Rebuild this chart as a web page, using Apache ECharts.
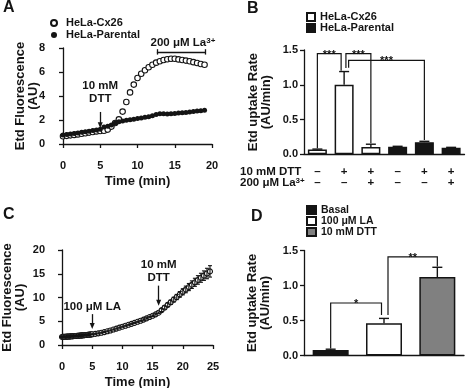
<!DOCTYPE html>
<html>
<head>
<meta charset="utf-8">
<script src="https://cdn.jsdelivr.net/npm/echarts@6/dist/echarts.min.js"></script>
<style>
html, body { margin: 0; padding: 0; background: #fff; }
#chart { width: 468px; height: 388px; }
</style>
</head>
<body>
<div id="chart"></div>
<script>
// ---- panel A: EtBr uptake, HeLa-Cx26 vs parental
var timeA = [0, 0.5, 1, 1.5, 2, 2.5, 3, 3.5, 4, 4.5, 5, 5.5, 6, 6.5, 7, 7.5, 8, 8.5, 9, 9.5,
  10, 10.5, 11, 11.5, 12, 12.5, 13, 13.5, 14, 14.5, 15, 15.5, 16, 16.5, 17, 17.5, 18, 18.5, 19];
var cx26A = [0.65, 0.68, 0.72, 0.76, 0.80, 0.85, 0.90, 0.95, 1.00, 1.05, 1.08, 1.10, 1.20, 1.45, 1.75, 2.05,
  2.70, 3.50, 4.30, 4.95, 5.50, 5.85, 6.15, 6.40, 6.60, 6.78, 6.90, 7.00, 7.06, 7.10, 7.10, 7.05,
  7.00, 6.95, 6.90, 6.82, 6.75, 6.67, 6.60];
var parentalA = [0.75, 0.80, 0.84, 0.88, 0.92, 0.97, 1.02, 1.07, 1.12, 1.17, 1.22, 1.42, 1.48, 1.58, 1.75, 1.85,
  1.92, 1.97, 2.02, 2.07, 2.12, 2.17, 2.22, 2.28, 2.35, 2.45, 2.52, 2.53, 2.50, 2.52, 2.55, 2.58,
  2.60, 2.63, 2.66, 2.70, 2.74, 2.78, 2.82];

// ---- panel B: uptake rates
var dttRow = ['–', '+', '+', '–', '+', '+'];
var laRow = ['–', '–', '+', '–', '–', '+'];
var cx26B = [0.07, 1.00, 0.105, null, null, null];
var parentalB = [null, null, null, 0.11, 0.175, 0.095];
var errB = [0.005, 0.19, 0.04, 0.005, 0.012, 0.005];
// [left bar, right bar, top, left leg bottom, right leg bottom]
var bracketsB = [[0, 1, 1.447, 0.087, 1.20], [1, 2, 1.447, 1.24, 0.16], [1, 4, 1.35, 1.245, 0.205]];
var starsB = ['***', '***', '***'];

// ---- panel C: LA then DTT
var timeC = [0, 0.125, 0.25, 0.375, 0.5, 0.625, 0.75, 0.875, 1, 1.125, 1.25, 1.375, 1.5, 1.625, 1.75, 1.875,
  2, 2.125, 2.25, 2.375, 2.5, 2.625, 2.75, 2.875, 3, 3.125, 3.25, 3.375, 3.5, 3.625, 3.75, 3.875,
  4, 4.125, 4.25, 4.375, 4.5, 4.625, 4.75, 4.875, 5,
  5.5, 6, 6.5, 7, 7.5, 8, 8.5, 9, 9.5, 10, 10.5, 11, 11.5, 12, 12.5, 13, 13.5, 14, 14.5, 15, 15.5, 16,
  16.5, 17, 17.5, 18, 18.5, 19, 19.5, 20, 20.5, 21, 21.5, 22, 22.5, 23, 23.5, 24, 24.5];
var valueC = [1.70, 1.71, 1.72, 1.73, 1.74, 1.75, 1.76, 1.77, 1.78, 1.79, 1.80, 1.82, 1.83, 1.84, 1.85, 1.86,
  1.88, 1.89, 1.90, 1.91, 1.93, 1.94, 1.96, 1.97, 1.99, 2.00, 2.02, 2.03, 2.05, 2.06, 2.08, 2.09,
  2.11, 2.12, 2.14, 2.16, 2.18, 2.20, 2.22, 2.24, 2.26,
  2.35, 2.45, 2.58, 2.72, 2.88, 3.05, 3.25, 3.45, 3.65, 3.85, 4.05, 4.25, 4.45, 4.65, 4.88, 5.10, 5.35, 5.60, 5.88, 6.15, 6.45, 6.80,
  7.35, 7.90, 8.45, 9.00, 9.55, 10.10, 10.65, 11.20, 11.70, 12.20, 12.70, 13.20, 13.70, 14.15, 14.60, 15.05, 15.50];
var errC = [0.05, 0.05, 0.05, 0.05, 0.05, 0.05, 0.05, 0.05, 0.05, 0.05, 0.05, 0.05, 0.05, 0.05, 0.05, 0.05,
  0.05, 0.05, 0.05, 0.05, 0.05, 0.05, 0.05, 0.05, 0.05, 0.05, 0.05, 0.05, 0.05, 0.05, 0.05, 0.05,
  0.05, 0.05, 0.05, 0.05, 0.05, 0.05, 0.05, 0.05, 0.05,
  0.1, 0.1, 0.1, 0.1, 0.1, 0.1, 0.1, 0.1, 0.1, 0.1, 0.1, 0.1, 0.1, 0.1, 0.1, 0.1, 0.15, 0.15, 0.15, 0.15, 0.15, 0.15,
  0.3, 0.35, 0.4, 0.45, 0.5, 0.55, 0.6, 0.65, 0.7, 0.75, 0.8, 0.85, 0.9, 0.95, 1.0, 1.1, 1.2];

// ---- panel D
var groupsD = ['Basal', '100 μM LA', '10 mM DTT'];
var basalD = [0.08, null, null];
var laD = [null, 0.46, null];
var dttD = [null, null, 1.12];
var errD = [0.01, 0.07, 0.14];
var bracketsD = [[0, 1, 0.75, 0.10, 0.58], [1, 2, 1.41, 0.58, 1.27]];
var starsD = ['*', '**'];

var ink = '#141414';
var font = '"Liberation Sans", Arial, sans-serif';

function pairs(xs, ys) {
  return xs.map(function (x, i) { return [x, ys[i]]; });
}

function errorBar(capHalf, both) {
  return function (params, api) {
    var x = api.value(0), m = api.value(1), e = api.value(2);
    var lo = api.coord([x, both ? m - e : m]);
    var hi = api.coord([x, m + e]);
    var st = { stroke: ink, lineWidth: both ? 1.1 : 1.4 };
    var kids = [
      { type: 'line', shape: { x1: hi[0], y1: lo[1], x2: hi[0], y2: hi[1] }, style: st },
      { type: 'line', shape: { x1: hi[0] - capHalf, y1: hi[1], x2: hi[0] + capHalf, y2: hi[1] }, style: st }
    ];
    if (both) {
      kids.push({ type: 'line', shape: { x1: hi[0] - capHalf, y1: lo[1], x2: hi[0] + capHalf, y2: lo[1] }, style: st });
    }
    return { type: 'group', children: kids };
  };
}

// leg shifts in px so the legs don't sit on the error bars
var shiftB = [[0, -3], [1.8, 0], [4.5, 0]];
var shiftD = [[0, -2.5], [4, 0]];

function bracket(shifts, stars) {
  return function (params, api) {
    var i = params.dataIndex;
    var l = api.coord([api.value(0), api.value(2)]);
    var r = api.coord([api.value(1), api.value(2)]);
    var lb = api.coord([api.value(0), api.value(3)]);
    var rb = api.coord([api.value(1), api.value(4)]);
    var xl = l[0] + shifts[i][0], xr = r[0] + shifts[i][1];
    return {
      type: 'group', children: [
        { type: 'polyline', shape: { points: [[xl, lb[1]], [xl, l[1]], [xr, l[1]], [xr, rb[1]]] },
          style: { stroke: ink, lineWidth: 1.2, fill: 'none' } },
        { type: 'text', style: { text: stars[i], x: (xl + xr) / 2, y: l[1] + 1, align: 'center', verticalAlign: 'middle',
          fill: ink, font: 'bold 11px ' + font } }
      ]
    };
  };
}

function meanOf(a, b) {
  return a.map(function (v, i) { return v != null ? v : b[i]; });
}

var meansB = meanOf(cx26B, parentalB);
var meansD = meanOf(meanOf(basalD, laD), dttD);

var tickLbl = { color: ink, fontSize: 11, fontWeight: 'bold', fontFamily: font };
var nameTxt = { color: ink, fontSize: 13, fontWeight: 'bold', fontFamily: font, lineHeight: 13 };
var axLine = { show: true, lineStyle: { color: ink, width: 1.3 } };
var axTick = { show: true, length: 4, lineStyle: { color: ink, width: 1.3 } };
var noSplit = { show: false };
var annLabel = { show: true, position: 'inside', color: ink, fontWeight: 'bold', fontSize: 11.5, fontFamily: font,
  lineHeight: 13, formatter: function (p) { return p.name; },
  rich: { s: { fontSize: 8, fontWeight: 'bold', fontFamily: font, color: ink, verticalAlign: 'top', lineHeight: 13 } } };
var markPt = { silent: true, symbol: 'rect', symbolSize: 1, itemStyle: { color: 'rgba(0,0,0,0)' }, label: annLabel };
var arrowLine = { silent: true, symbol: ['none', 'triangle'], symbolSize: [5, 6], label: { show: false },
  lineStyle: { color: ink, width: 1.3, type: 'solid' }, emphasis: { disabled: true } };

function stripName(n) { var k = n.indexOf('|'); return k >= 0 ? n.slice(k + 1) : n; }

var option = {
  animation: false,
  backgroundColor: '#fff',
  textStyle: { fontFamily: font },
  grid: [
    { left: 63, right: 256, top: 48, bottom: 244, outerBoundsMode: 'none' },
    { left: 304, right: 3.5, top: 50, bottom: 233.7, outerBoundsMode: 'none' },
    { left: 62, right: 255, top: 250, bottom: 43, outerBoundsMode: 'none' },
    { left: 304, right: 4, top: 250.5, bottom: 32.5, outerBoundsMode: 'none' }
  ],
  xAxis: [
    { type: 'value', gridIndex: 0, min: 0, max: 20, interval: 5, offset: 10, axisLine: axLine, axisTick: axTick,
      axisLabel: Object.assign({ margin: 6 }, tickLbl), splitLine: noSplit,
      name: 'Time (min)', nameLocation: 'middle', nameGap: 21, nameMoveOverlap: false, nameTextStyle: nameTxt },
    { type: 'category', gridIndex: 1, data: dttRow.map(function (d, i) { return d + '\n' + laRow[i]; }),
      axisLine: axLine, axisTick: { show: false },
      axisLabel: { color: ink, fontSize: 11.5, fontWeight: 'bold', fontFamily: font, lineHeight: 11.3, margin: 12, interval: 0 } },
    { type: 'value', gridIndex: 2, min: 0, max: 25, interval: 5, offset: 10, axisLine: axLine, axisTick: axTick,
      axisLabel: Object.assign({ margin: 6 }, tickLbl), splitLine: noSplit,
      name: 'Time (min)', nameLocation: 'middle', nameGap: 21, nameMoveOverlap: false, nameTextStyle: nameTxt },
    { type: 'category', gridIndex: 3, data: groupsD, axisLine: axLine, axisTick: { show: false }, axisLabel: { show: false } }
  ],
  yAxis: [
    { type: 'value', gridIndex: 0, min: 0, max: 8, interval: 2, offset: 11, axisLine: axLine, axisTick: axTick,
      axisLabel: Object.assign({ margin: 7 }, tickLbl), splitLine: noSplit,
      name: 'Etd Fluorescence\n(AU)', nameLocation: 'middle', nameRotate: 90, nameGap: 12, nameMoveOverlap: false,
      nameTextStyle: nameTxt },
    { type: 'value', gridIndex: 1, min: 0, max: 1.5, interval: 0.5, axisLine: axLine, axisTick: axTick,
      axisLabel: Object.assign({ margin: 6, formatter: function (v) { return v.toFixed(1); } }, tickLbl), splitLine: noSplit,
      name: 'Etd uptake Rate\n(AU/min)', nameLocation: 'middle', nameRotate: 90, nameGap: 31, nameMoveOverlap: false,
      nameTextStyle: nameTxt },
    { type: 'value', gridIndex: 2, min: 0, max: 20, interval: 5, offset: 10, axisLine: axLine, axisTick: axTick,
      axisLabel: Object.assign({ margin: 7 }, tickLbl), splitLine: noSplit,
      name: 'Etd Fluorescence\n(AU)', nameLocation: 'middle', nameRotate: 90, nameGap: 25, nameMoveOverlap: false,
      nameTextStyle: nameTxt },
    { type: 'value', gridIndex: 3, min: 0, max: 1.5, interval: 0.5, axisLine: axLine, axisTick: axTick,
      axisLabel: Object.assign({ margin: 6, formatter: function (v) { return v.toFixed(1); } }, tickLbl), splitLine: noSplit,
      name: 'Etd uptake Rate\n(AU/min)', nameLocation: 'middle', nameRotate: 90, nameGap: 32, nameMoveOverlap: false,
      nameTextStyle: nameTxt }
  ],
  legend: [
    { data: [{ name: 'A|HeLa-Cx26', icon: 'circle' }, { name: 'A|HeLa-Parental', icon: 'circle' }],
      orient: 'vertical', left: 45, top: 12, itemWidth: 14, itemHeight: 6,
      itemGap: 0, formatter: stripName, selectedMode: false,
      textStyle: { color: ink, fontSize: 11, fontWeight: 'bold', fontFamily: font, lineHeight: 12 } },
    { data: ['B|HeLa-Cx26', 'B|HeLa-Parental'], orient: 'vertical', left: 301, top: 6.5, itemWidth: 8, itemHeight: 8,
      itemGap: 0, formatter: stripName, selectedMode: false, icon: 'rect',
      textStyle: { color: ink, fontSize: 11, fontWeight: 'bold', fontFamily: font, lineHeight: 11 } },
    { data: groupsD, orient: 'vertical', left: 301, top: 199.4, itemWidth: 9, itemHeight: 8,
      itemGap: 0, selectedMode: false, icon: 'rect',
      textStyle: { color: ink, fontSize: 10.5, fontWeight: 'bold', fontFamily: font, lineHeight: 9.2 } }
  ],
  graphic: [
    { type: 'text', left: 3, top: 0, style: { text: 'A', fontSize: 16, fontWeight: 'bold', fontFamily: font, fill: ink } },
    { type: 'text', left: 247, top: 1, style: { text: 'B', fontSize: 16, fontWeight: 'bold', fontFamily: font, fill: ink } },
    { type: 'text', left: 3, top: 207, style: { text: 'C', fontSize: 16, fontWeight: 'bold', fontFamily: font, fill: ink } },
    { type: 'text', left: 251, top: 209, style: { text: 'D', fontSize: 16, fontWeight: 'bold', fontFamily: font, fill: ink } },
    { type: 'text', x: 240, y: 172, style: { text: '10 mM DTT', fontSize: 11.5, fontWeight: 'bold', fontFamily: font,
      fill: ink, verticalAlign: 'middle' } },
    { type: 'text', x: 240, y: 183.3, style: { text: '200 μM La{s|3+}', fontSize: 11.5, fontWeight: 'bold', fontFamily: font,
      fill: ink, verticalAlign: 'middle',
      rich: { s: { fontSize: 8, fontWeight: 'bold', fontFamily: font, fill: ink, verticalAlign: 'top', lineHeight: 13 } } } }
  ],
  series: [
    // A
    { name: 'A|HeLa-Cx26', type: 'scatter', xAxisIndex: 0, yAxisIndex: 0, data: pairs(timeA, cx26A),
      symbol: 'circle', symbolSize: 5.5, z: 2,
      itemStyle: { color: '#fff', borderColor: ink, borderWidth: 1.1, opacity: 1 } },
    { name: 'A|HeLa-Parental', type: 'scatter', xAxisIndex: 0, yAxisIndex: 0, data: pairs(timeA, parentalA),
      symbol: 'circle', symbolSize: 5, z: 3, itemStyle: { color: ink, opacity: 1 },
      markLine: Object.assign({}, arrowLine, {
        data: [
          [{ coord: [5, 2.67] }, { coord: [5, 1.56] }],
          [{ coord: [12.6, 7.67], symbol: 'none' }, { coord: [19.1, 7.67], symbol: 'none' }],
          [{ coord: [12.6, 7.45], symbol: 'none' }, { coord: [12.6, 7.9], symbol: 'none' }],
          [{ coord: [19.1, 7.45], symbol: 'none' }, { coord: [19.1, 7.9], symbol: 'none' }]
        ] }),
      markPoint: Object.assign({}, markPt, {
        data: [
          { name: '10 mM\nDTT', coord: [5, 4.29] },
          { name: '200 μM La{s|3+}', coord: [16.1, 7.67], label: Object.assign({}, annLabel, { offset: [0, -9] }) }
        ] }) },
    // B
    { name: 'B|HeLa-Cx26', type: 'bar', xAxisIndex: 1, yAxisIndex: 1, data: cx26B, barWidth: 19, barGap: '-100%',
      itemStyle: { color: '#fff', borderColor: ink, borderWidth: 1.5 } },
    { name: 'B|HeLa-Parental', type: 'bar', xAxisIndex: 1, yAxisIndex: 1, data: parentalB, barWidth: 19, barGap: '-100%',
      itemStyle: { color: ink, borderColor: ink, borderWidth: 1.5 } },
    { name: 'errB', type: 'custom', xAxisIndex: 1, yAxisIndex: 1, z: 4,
      data: meansB.map(function (m, i) { return [i, m, errB[i]]; }), renderItem: errorBar(5, false) },
    { name: 'sigB', type: 'custom', xAxisIndex: 1, yAxisIndex: 1, z: 4, data: bracketsB, renderItem: bracket(shiftB, starsB) },
    // C
    { name: 'C', type: 'scatter', xAxisIndex: 2, yAxisIndex: 2, data: pairs(timeC, valueC),
      symbol: 'circle', symbolSize: 5, z: 2,
      itemStyle: { color: '#fff', borderColor: ink, borderWidth: 1.1, opacity: 1 },
      markLine: Object.assign({}, arrowLine, {
        data: [
          [{ coord: [5, 6.5] }, { coord: [5, 4.0] }],
          [{ coord: [16, 12.5] }, { coord: [16, 8.9] }]
        ] }),
      markPoint: Object.assign({}, markPt, {
        data: [
          { name: '100 μM LA', coord: [5, 8.0] },
          { name: '10 mM\nDTT', coord: [16, 15.5] }
        ] }) },
    { name: 'errC', type: 'custom', xAxisIndex: 2, yAxisIndex: 2, z: 3,
      data: valueC.map(function (m, i) { return [timeC[i], m, errC[i]]; }), renderItem: errorBar(2, true) },
    // D
    { name: 'Basal', type: 'bar', xAxisIndex: 3, yAxisIndex: 3, data: basalD, barWidth: 36, barGap: '-100%',
      itemStyle: { color: ink, borderColor: ink, borderWidth: 1.5 } },
    { name: '100 μM LA', type: 'bar', xAxisIndex: 3, yAxisIndex: 3, data: laD, barWidth: 36, barGap: '-100%',
      itemStyle: { color: '#fff', borderColor: ink, borderWidth: 1.5 } },
    { name: '10 mM DTT', type: 'bar', xAxisIndex: 3, yAxisIndex: 3, data: dttD, barWidth: 36, barGap: '-100%',
      itemStyle: { color: '#808080', borderColor: ink, borderWidth: 1.5 } },
    { name: 'errD', type: 'custom', xAxisIndex: 3, yAxisIndex: 3, z: 4,
      data: meansD.map(function (m, i) { return [i, m, errD[i]]; }), renderItem: errorBar(5, false) },
    { name: 'sigD', type: 'custom', xAxisIndex: 3, yAxisIndex: 3, z: 4, data: bracketsD, renderItem: bracket(shiftD, starsD) }
  ]
};

var chart = echarts.init(document.getElementById('chart'), null, { renderer: 'canvas' });
chart.setOption(option);
</script>
</body>
</html>
